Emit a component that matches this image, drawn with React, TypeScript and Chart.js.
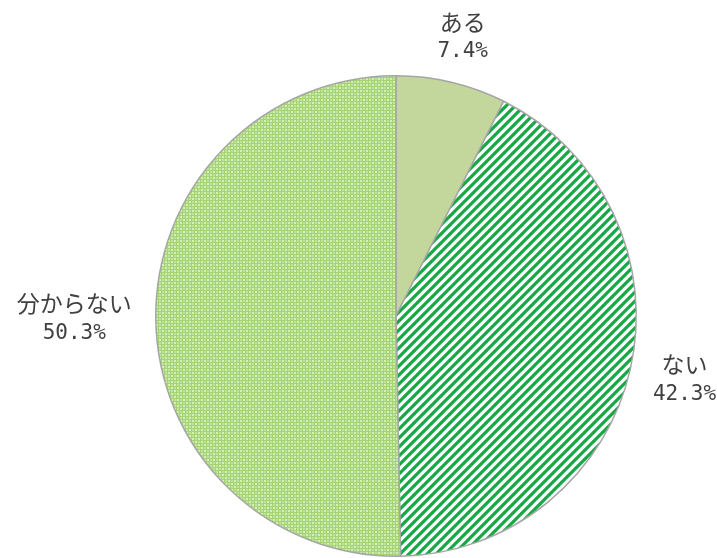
import React, { useEffect, useRef } from "react";
import { Chart, registerables } from "chart.js";

Chart.register(...registerables);

const categories = ["ある", "ない", "分からない"];
const values = [7.4, 42.3, 50.3];
const percentLabels = ["7.4%", "42.3%", "50.3%"];

function makeStripePattern(ctx: CanvasRenderingContext2D): CanvasPattern | string {
  const size = 9;
  const c = document.createElement("canvas");
  c.width = size;
  c.height = size;
  const g = c.getContext("2d");
  if (!g) return "#1aa84a";
  g.fillStyle = "#ffffff";
  g.fillRect(0, 0, size, size);
  g.strokeStyle = "#17a846";
  g.lineWidth = 3.2;
  g.beginPath();
  for (let k = -1; k <= 1; k++) {
    g.moveTo(k * size - 1, size + 1);
    g.lineTo(k * size + size + 1, -1);
  }
  g.stroke();
  return ctx.createPattern(c, "repeat") || "#17a846";
}

function makeDotPattern(ctx: CanvasRenderingContext2D): CanvasPattern | string {
  const size = 6;
  const c = document.createElement("canvas");
  c.width = size;
  c.height = size;
  const g = c.getContext("2d");
  if (!g) return "#b5dd8c";
  g.fillStyle = "#a5d474";
  g.fillRect(0, 0, size, size);
  g.fillStyle = "#d6eeba";
  g.fillRect(0, 0, 2, 2);
  g.fillRect(3, 3, 2, 2);
  g.fillStyle = "#bfe39a";
  g.fillRect(3, 0, 2, 2);
  g.fillRect(0, 3, 2, 2);
  return ctx.createPattern(c, "repeat") || "#b5dd8c";
}

const labelPlugin = {
  id: "outsideLabels",
  afterDatasetsDraw(chart: any) {
    const ctx: CanvasRenderingContext2D = chart.ctx;
    const meta = chart.getDatasetMeta(0);
    const nameFont = '23px "Noto Sans CJK JP", sans-serif';
    const pctFont = '21px "DejaVu Sans Mono", monospace';
    ctx.save();
    ctx.fillStyle = "#404040";
    ctx.textAlign = "center";
    ctx.textBaseline = "middle";
    const lineH = 30;
    const gap = 24;
    meta.data.forEach((arc: any, i: number) => {
      const mid = (arc.startAngle + arc.endAngle) / 2;
      const dx = Math.cos(mid);
      const dy = Math.sin(mid);
      const l1 = categories[i];
      const l2 = percentLabels[i];
      ctx.font = nameFont;
      const w1 = ctx.measureText(l1).width;
      ctx.font = pctFont;
      const w2 = ctx.measureText(l2).width;
      const w = Math.max(w1, w2);
      const h = lineH * 2;
      const px = arc.x + (arc.outerRadius + gap) * dx + (dx * w) / 2;
      const py = arc.y + (arc.outerRadius + gap) * dy + (dy * h * 0.75) / 2;
      ctx.font = nameFont;
      ctx.fillText(l1, px, py - lineH / 2);
      ctx.font = pctFont;
      ctx.fillText(l2, px, py + lineH / 2);
    });
    ctx.restore();
  },
};

export default function App() {
  const ref = useRef<HTMLCanvasElement | null>(null);
  useEffect(() => {
    const canvas = ref.current;
    if (!canvas) return;
    const ctx = canvas.getContext("2d");
    if (!ctx) return;
    const chart = new Chart(ctx, {
      type: "pie",
      data: {
        labels: categories,
        datasets: [
          {
            data: values,
            backgroundColor: ["#c3d69b", makeStripePattern(ctx), makeDotPattern(ctx)],
            borderColor: "#a6a6a6",
            borderWidth: 1.5,
          },
        ],
      },
      options: {
        responsive: false,
        animation: false,
        layout: { padding: { left: 155, right: 80, top: 75, bottom: 1 } },
        plugins: {
          legend: { display: false },
          tooltip: { enabled: false },
        },
      },
      plugins: [labelPlugin],
    });
    return () => chart.destroy();
  }, []);
  return (
    <div style={{ position: "absolute", left: 0, top: 0, width: 717, height: 558, background: "#ffffff" }}>
      <canvas ref={ref} width={717} height={558} />
    </div>
  );
}
